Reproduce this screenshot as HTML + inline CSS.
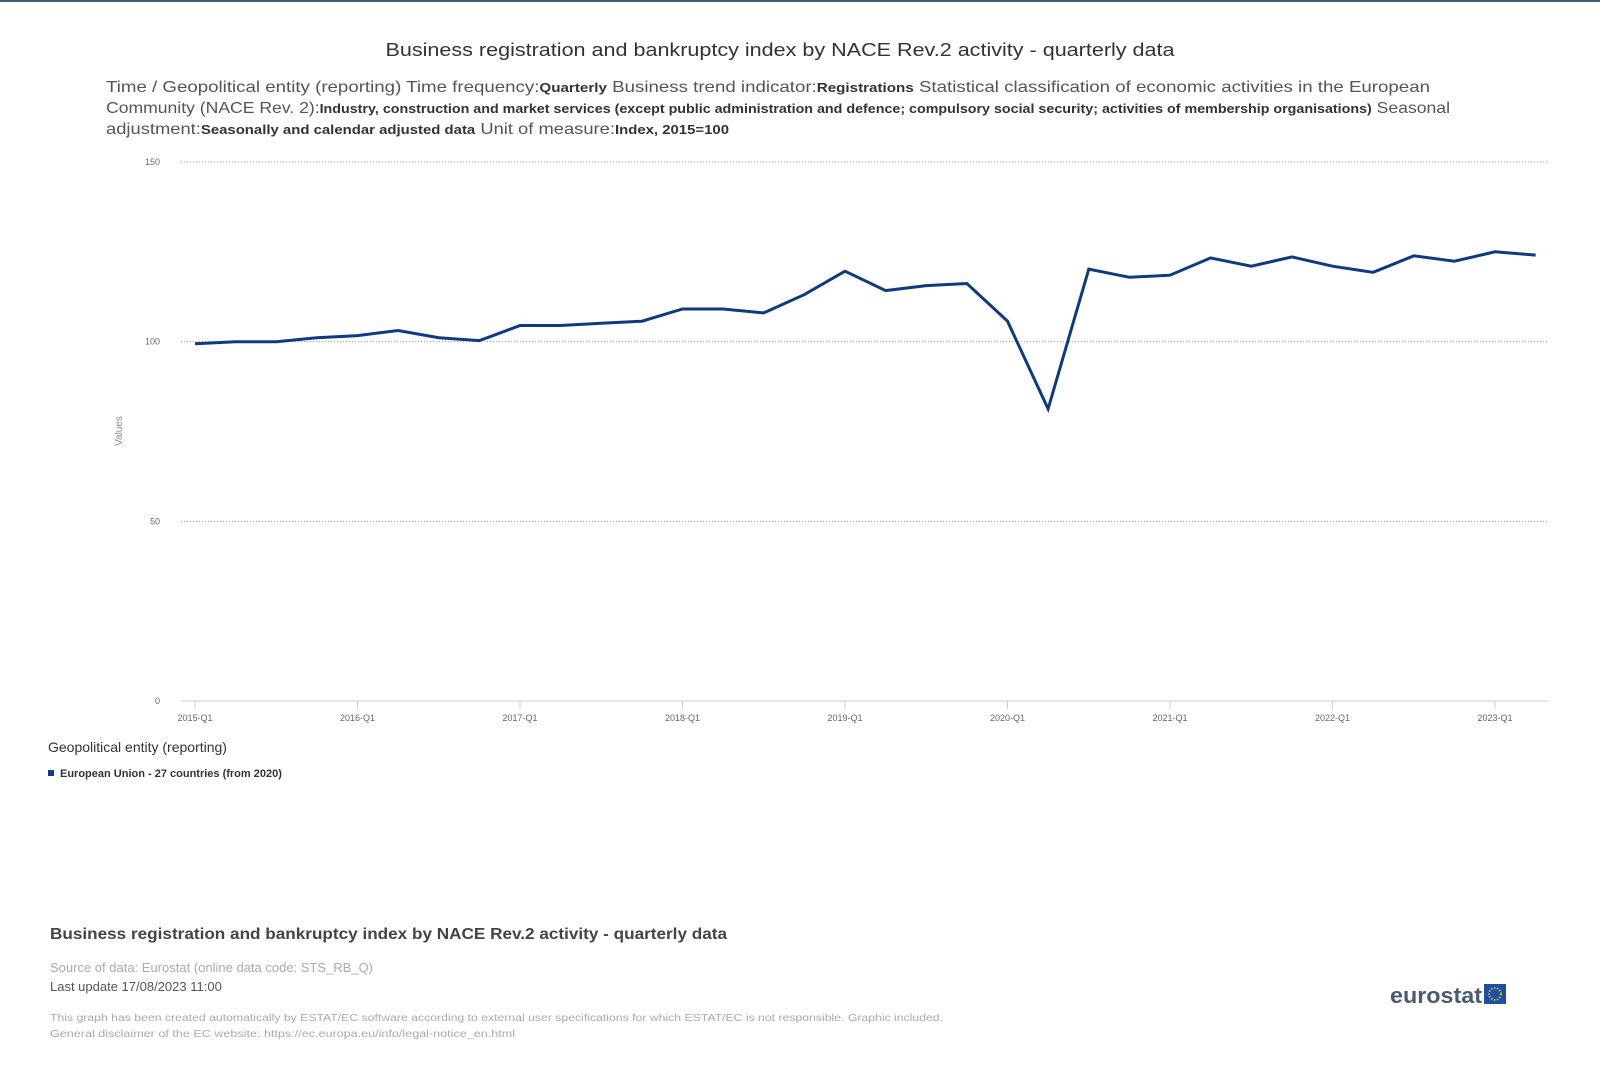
<!DOCTYPE html>
<html><head><meta charset="utf-8"><style>
html,body{margin:0;padding:0;background:#fff;}
svg{display:block;font-family:"Liberation Sans",sans-serif;}
</style></head><body>
<svg id="chart" width="1600" height="1075" viewBox="0 0 1600 1075">
<rect x="0" y="0" width="1600" height="2" fill="#3a5a80"/>
<text x="780" y="56" text-anchor="middle" font-size="18" fill="#333" textLength="789" lengthAdjust="spacingAndGlyphs">Business registration and bankruptcy index by NACE Rev.2 activity - quarterly data</text>
<g fill="#555" font-size="16">
<text x="106" y="92" textLength="1324" lengthAdjust="spacingAndGlyphs">Time / Geopolitical entity (reporting)  Time frequency:<tspan font-weight="bold" font-size="13" fill="#333">Quarterly</tspan>  Business trend indicator:<tspan font-weight="bold" font-size="13" fill="#333">Registrations</tspan>  Statistical classification of economic activities in the European</text>
<text x="106" y="113" textLength="1344" lengthAdjust="spacingAndGlyphs">Community (NACE Rev. 2):<tspan font-weight="bold" font-size="13" fill="#333">Industry, construction and market services (except public administration and defence; compulsory social security; activities of membership organisations)</tspan>  Seasonal</text>
<text x="106" y="134" textLength="623" lengthAdjust="spacingAndGlyphs">adjustment:<tspan font-weight="bold" font-size="13" fill="#333">Seasonally and calendar adjusted data</tspan>  Unit of measure:<tspan font-weight="bold" font-size="13" fill="#333">Index, 2015=100</tspan></text>
</g>
<g id="grid"></g>
<g id="axes"></g>
<g id="series"></g>
<text transform="translate(122,431) rotate(-90)" text-anchor="middle" font-size="10" fill="#888">Values</text>
<text x="48" y="752" font-size="14" fill="#333">Geopolitical entity (reporting)</text>
<g>
<rect x="48" y="770" width="6" height="6" fill="#0e3a80"/>
<text x="60" y="777" font-size="11" font-weight="bold" fill="#333">European Union - 27 countries (from 2020)</text>
</g>
<text x="50" y="939" font-size="16" font-weight="bold" fill="#444" textLength="677" lengthAdjust="spacingAndGlyphs">Business registration and bankruptcy index by NACE Rev.2 activity - quarterly data</text>
<text x="50" y="972" font-size="13" fill="#aaa">Source of data: Eurostat (online data code: STS_RB_Q)</text>
<text x="50" y="991" font-size="13" fill="#555">Last update 17/08/2023 11:00</text>
<text x="50" y="1021" font-size="10" fill="#aaa" textLength="893" lengthAdjust="spacingAndGlyphs">This graph has been created automatically by ESTAT/EC software according to external user specifications for which ESTAT/EC is not responsible. Graphic included.</text>
<text x="50" y="1037" font-size="10" fill="#aaa" textLength="465" lengthAdjust="spacingAndGlyphs">General disclaimer of the EC website: https://ec.europa.eu/info/legal-notice_en.html</text>
<g>
<text x="1390" y="1003" font-size="22" font-weight="bold" fill="#4a5a70" textLength="92" lengthAdjust="spacingAndGlyphs">eurostat</text>
<rect x="1484" y="984" width="22" height="20" fill="#1f4fa0"/>
<circle cx="1495" cy="994" r="6" fill="none" stroke="#f5d000" stroke-width="1.5" stroke-dasharray="1.5 1.5"/>
</g>
</svg>
<script>
const categories = ["2015-Q1","2015-Q2","2015-Q3","2015-Q4","2016-Q1","2016-Q2","2016-Q3","2016-Q4","2017-Q1","2017-Q2","2017-Q3","2017-Q4","2018-Q1","2018-Q2","2018-Q3","2018-Q4","2019-Q1","2019-Q2","2019-Q3","2019-Q4","2020-Q1","2020-Q2","2020-Q3","2020-Q4","2021-Q1","2021-Q2","2021-Q3","2021-Q4","2022-Q1","2022-Q2","2022-Q3","2022-Q4","2023-Q1","2023-Q2"];
const euValues = [99.4,100,100,101.1,101.7,103.1,101.1,100.3,104.5,104.5,105.1,105.7,109.1,109.1,108,113.1,119.6,114.2,115.6,116.2,105.7,81.3,120.2,117.9,118.5,123.3,121,123.6,121,119.3,123.9,122.4,125,124.1];
const yTicks = [0,50,100,150];
const xTickLabels = ["2015-Q1","2016-Q1","2017-Q1","2018-Q1","2019-Q1","2020-Q1","2021-Q1","2022-Q1","2023-Q1"];

const NS = "http://www.w3.org/2000/svg";
const plotL = 181, plotR = 1548, plotTop = 162, plotBottom = 701;
const yMax = 150;
function y(v){ return plotBottom - v / yMax * (plotBottom - plotTop); }
function x(i){ return 195 + i * (1495 - 195) / 32; }
function mk(tag, attrs, parent){ const e = document.createElementNS(NS, tag); for (const k in attrs) e.setAttribute(k, attrs[k]); parent.appendChild(e); return e; }

const grid = document.getElementById('grid');
yTicks.forEach(t => {
  if (t > 0) {
    const l = mk('line', {x1: plotL, x2: plotR, y1: y(t), y2: y(t), stroke: '#999', 'stroke-width': 1, 'stroke-dasharray': '1 2'}, grid);
    
    
  }
  const tx = mk('text', {x: 160, y: y(t) + 3, 'text-anchor': 'end', 'font-size': 9, fill: '#666'}, grid);
  tx.textContent = t;
  
  
});

const axes = document.getElementById('axes');
const ax = mk('line', {x1: plotL, x2: plotR, y1: plotBottom, y2: plotBottom, stroke: '#ccc', 'stroke-width': 1}, axes);


xTickLabels.forEach(lbl => {
  const i = categories.indexOf(lbl);
  const tk = mk('line', {x1: x(i), x2: x(i), y1: plotBottom, y2: plotBottom + 8, stroke: '#ccc'}, axes);
  
  
  const tx = mk('text', {x: x(i), y: plotBottom + 20, 'text-anchor': 'middle', 'font-size': 9, fill: '#666'}, axes);
  tx.textContent = lbl;
  
  
});

const series = document.getElementById('series');
const pts = euValues.map((v, i) => x(i).toFixed(1) + ',' + y(v).toFixed(1)).join(' ');
const line = mk('polyline', {points: pts, fill: 'none', stroke: '#0e3a80', 'stroke-width': 3, 'stroke-linejoin': 'miter'}, series);


</script>
</body></html>
